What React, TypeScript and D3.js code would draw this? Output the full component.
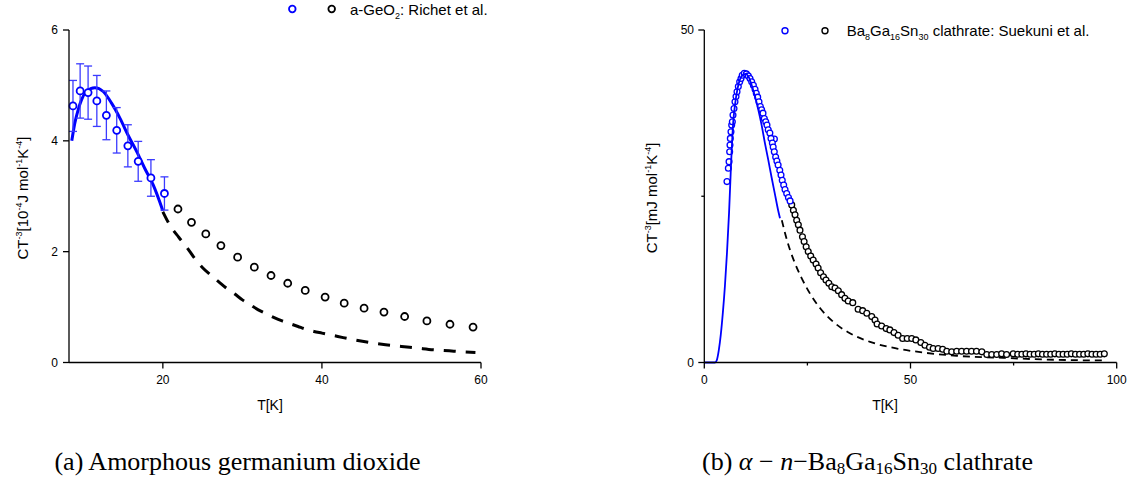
import React from "react";
import { scaleLinear, line, curveMonotoneX } from "d3";

// (a) a-GeO2, Richet et al.
const geoLowT = [8.7, 9.6, 10.6, 11.7, 12.9, 14.2, 15.6, 16.9, 18.5, 20.2];
const geoLowCt = [4.63, 4.9, 4.87, 4.72, 4.46, 4.19, 3.91, 3.63, 3.33, 3.05];
const geoLowErr = [0.46, 0.49, 0.48, 0.46, 0.44, 0.41, 0.38, 0.36, 0.33, 0.3];
const geoHighT = [21.9, 23.6, 25.4, 27.3, 29.4, 31.5, 33.6, 35.7, 37.9, 40.4, 42.8, 45.3, 47.8, 50.4, 53.2, 56.1, 59.0];
const geoHighCt = [2.77, 2.53, 2.32, 2.11, 1.9, 1.72, 1.57, 1.43, 1.3, 1.18, 1.07, 0.98, 0.91, 0.83, 0.75, 0.69, 0.64];
const geoFit: [number, number][] = [
  [8.55, 4.0], [8.93, 4.32], [9.35, 4.56], [9.77, 4.74], [10.4, 4.89], [11.45, 4.96], [12.5, 4.89],
  [13.55, 4.68], [14.6, 4.41], [15.6, 4.11], [16.7, 3.81], [17.7, 3.51], [18.8, 3.2], [20.0, 2.74],
];
const geoTail: [number, number][] = [
  [20.0, 2.72], [21.0, 2.45], [22.0, 2.26], [23.0, 2.08], [24.0, 1.88], [25.0, 1.71], [26.0, 1.58],
  [27.0, 1.46], [28.0, 1.34], [29.0, 1.24], [30.0, 1.13], [31.0, 1.04], [32.0, 0.95], [33.0, 0.88],
  [34.0, 0.81], [35.0, 0.75], [36.0, 0.7], [37.0, 0.65], [38.0, 0.6], [39.0, 0.56], [40.0, 0.53],
  [42.0, 0.47], [44.0, 0.41], [46.0, 0.36], [48.0, 0.32], [50.0, 0.29], [52.0, 0.26], [54.0, 0.23],
  [56.0, 0.21], [58.0, 0.19], [59.3, 0.18],
];
const geoYTicks = [0, 2, 4, 6];
const geoXTicks = [20, 40, 60];

// (b) Ba8Ga16Sn30 clathrate, Suekuni et al.
const bgsLowT = [
  5.5, 5.83, 6.0, 6.15, 6.23, 6.31, 6.47, 6.64, 6.8, 6.96, 7.2, 7.44, 7.69, 7.93, 8.25, 8.58, 8.9, 9.2, 9.7, 10.2,
  10.67, 11.08, 11.49, 11.9, 12.3, 12.6, 12.95, 13.26, 13.6, 13.9, 14.23, 14.55, 14.9, 15.2, 15.5, 15.9, 17.0,
  16.17, 16.5, 16.7, 16.97, 17.3, 17.6, 17.9, 18.3, 18.6, 18.9, 19.25, 19.57, 19.98, 20.4, 20.8,
];
const bgsLowCt = [
  27.2, 29.2, 30.2, 31.7, 32.7, 33.7, 34.7, 35.7, 36.2, 37.2, 38.2, 39.2, 40.0, 40.7, 41.5, 42.2, 42.7, 43.2, 43.5, 43.4,
  43.1, 42.7, 42.2, 41.7, 41.1, 40.5, 39.9, 39.2, 38.5, 38.0, 37.5, 36.7, 36.2, 35.7, 35.0, 34.5, 33.6,
  33.7, 33.0, 32.4, 31.7, 30.9, 30.3, 29.7, 28.9, 28.2, 27.4, 26.7, 26.0, 25.4, 24.8, 24.3,
];
const bgsHighT = [
  21.2, 21.6, 22.0, 22.4, 22.8, 23.2, 23.8, 24.2, 24.7, 25.2, 25.8, 26.4, 27.1, 27.6, 28.2, 28.9, 29.5, 30.2,
  30.9, 31.7, 32.5, 33.3, 34.1, 34.9, 36.0, 37.3, 38.4, 39.4, 40.6, 41.4, 41.9, 43.0, 44.1, 45.0, 46.0, 47.0,
  48.1, 49.2, 50.3, 51.3, 52.5, 53.5, 54.6, 55.5, 56.7, 57.8, 58.8, 60.0, 61.2, 62.4, 63.6, 64.8, 66.0, 67.3,
  68.5, 69.7, 70.9, 72.1, 73.3, 74.9, 76.0, 77.0, 78.0, 79.0, 80.0, 81.0, 82.0, 83.0, 84.0, 85.0, 86.0, 87.0,
  88.0, 89.0, 90.0, 91.0, 92.0, 93.0, 94.0, 95.0, 96.0, 97.0,
];
const bgsHighCt = [
  23.7, 22.9, 22.2, 21.4, 20.7, 19.9, 18.9, 18.2, 17.4, 16.7, 16.0, 15.4, 14.8, 14.2, 13.5, 12.9, 12.4, 11.9,
  11.4, 11.2, 10.8, 10.2, 9.65, 9.25, 9.0, 8.0, 7.8, 7.4, 6.9, 6.4, 5.8, 5.5, 5.1, 4.9, 4.5, 4.1,
  3.6, 3.6, 3.6, 3.4, 3.0, 2.6, 2.3, 2.1, 2.1, 2.0, 1.7, 1.6, 1.7, 1.7, 1.7, 1.7, 1.7, 1.6,
  1.2, 1.2, 1.2, 1.3, 1.2, 1.3, 1.25, 1.25, 1.3, 1.25, 1.25, 1.3, 1.25, 1.25, 1.25, 1.3, 1.25, 1.25,
  1.25, 1.3, 1.25, 1.25, 1.25, 1.3, 1.25, 1.25, 1.25, 1.3,
];
const bgsFit: [number, number][] = [
  [0, 0], [2.6, 0], [3.0, 0.3], [3.5, 1.8], [4.0, 4.2], [4.5, 7.5], [5.0, 11.5], [5.5, 16.5], [6.0, 22.5],
  [6.5, 30.0], [7.0, 36.0], [7.5, 39.0], [8.0, 41.0], [8.5, 42.3], [9.0, 43.0], [9.5, 43.3], [10.0, 43.4],
  [10.7, 43.0], [11.5, 41.7], [12.3, 40.0], [13.1, 38.0], [13.9, 35.7], [14.7, 33.0], [15.5, 30.5],
  [16.3, 27.9], [17.1, 25.4], [17.9, 22.9], [18.35, 21.7],
];
const bgsTail: [number, number][] = [
  [18.8, 21.4], [19.6, 19.4], [20.8, 16.9], [22.0, 14.9], [23.6, 12.7], [25.6, 10.4], [28.1, 8.15],
  [31.3, 6.1], [35.3, 4.4], [40.2, 3.1], [46.7, 2.1], [53.1, 1.5], [61.2, 1.0], [72.5, 0.7], [80, 0.5],
  [90, 0.35], [97.6, 0.3],
];
const bgsYTicks = [0, 50];
const bgsYMinor = [25];
const bgsXTicks = [0, 50, 100];
const bgsXMinor = [25, 75];

const BLUE = "#0000ff";
const SANS = "'Liberation Sans', Arial, sans-serif";
const SERIF = "'Liberation Serif', 'Times New Roman', serif";

export default function App() {
  const xL = scaleLinear().domain([8.2, 60]).range([69, 481]);
  const yL = scaleLinear().domain([0, 6]).range([362.5, 30]);
  const xR = scaleLinear().domain([0, 100]).range([704.3, 1116.7]);
  const yR = scaleLinear().domain([0, 50]).range([362.5, 30]);

  const lineL = line<[number, number]>().x(d => xL(d[0])).y(d => yL(d[1])).curve(curveMonotoneX);
  const lineR = line<[number, number]>().x(d => xR(d[0])).y(d => yR(d[1])).curve(curveMonotoneX);

  const baseY = 362.5;

  return (
    <svg width={1132} height={479} style={{ position: "absolute", left: 0, top: 0, background: "#fff" }}>
      {/* ---------- left panel ---------- */}
      <g fontFamily={SANS}>
        <path d={lineL(geoTail) || ""} fill="none" stroke="#000" strokeWidth={3} strokeDasharray="12 10" />
        <path d={lineL(geoFit) || ""} fill="none" stroke={BLUE} strokeWidth={3} />

        {geoLowT.map((t, i) => {
          const x = xL(t);
          const y0 = yL(geoLowCt[i] - geoLowErr[i]);
          const y1 = yL(geoLowCt[i] + geoLowErr[i]);
          return (
            <g key={i} stroke="#3b3bff" strokeWidth={1.3}>
              <line x1={x} x2={x} y1={y0} y2={y1} />
              <line x1={x - 4} x2={x + 4} y1={y0} y2={y0} />
              <line x1={x - 4} x2={x + 4} y1={y1} y2={y1} />
            </g>
          );
        })}
        {geoLowT.map((t, i) => (
          <circle key={i} cx={xL(t)} cy={yL(geoLowCt[i])} r={3.5} fill="#fff" stroke={BLUE} strokeWidth={1.8} />
        ))}
        {geoHighT.map((t, i) => (
          <circle key={i} cx={xL(t)} cy={yL(geoHighCt[i])} r={3.5} fill="#fff" stroke="#000" strokeWidth={1.8} />
        ))}

        {/* axes */}
        <line x1={69} x2={69} y1={yL(6)} y2={baseY} stroke="#000" strokeWidth={1.3} />
        <line x1={69} x2={xL(60)} y1={baseY} y2={baseY} stroke="#000" strokeWidth={1.3} />
        {geoYTicks.map(v => (
          <g key={v}>
            <line x1={63} x2={69} y1={yL(v)} y2={yL(v)} stroke="#000" strokeWidth={1.3} />
            <text x={58} y={yL(v)} dy="0.35em" textAnchor="end" fontSize={12}>{v}</text>
          </g>
        ))}
        {geoXTicks.map(v => (
          <g key={v}>
            <line x1={xL(v)} x2={xL(v)} y1={baseY} y2={baseY + 6} stroke="#000" strokeWidth={1.3} />
            <text x={xL(v)} y={384} textAnchor="middle" fontSize={12}>{v}</text>
          </g>
        ))}
        <text x={270} y={410} textAnchor="middle" fontSize={14}>T[K]</text>
        <text transform="translate(28,198) rotate(-90)" textAnchor="middle" fontSize={15}>
          CT<tspan fontSize={9} dy={-6}>-3</tspan>
          <tspan dy={6}>[10</tspan>
          <tspan fontSize={9} dy={-6}>-4</tspan>
          <tspan dy={6}>J mol</tspan>
          <tspan fontSize={9} dy={-6}>-1</tspan>
          <tspan dy={6}>K</tspan>
          <tspan fontSize={9} dy={-6}>-4</tspan>
          <tspan dy={6}>]</tspan>
        </text>

        {/* legend */}
        <circle cx={292.3} cy={9} r={3.3} fill="#fff" stroke={BLUE} strokeWidth={1.8} />
        <circle cx={331.7} cy={9} r={3.3} fill="#fff" stroke="#000" strokeWidth={1.8} />
        <text x={350} y={15} fontSize={15}>
          a-GeO<tspan fontSize={9} dy={4}>2</tspan>
          <tspan dy={-4}>: Richet et al.</tspan>
        </text>
      </g>

      {/* ---------- right panel ---------- */}
      <g fontFamily={SANS}>
        <path d={lineR(bgsTail) || ""} fill="none" stroke="#000" strokeWidth={1.8} strokeDasharray="7 5" />
        {bgsHighT.map((t, i) => (
          <circle key={i} cx={xR(t)} cy={yR(bgsHighCt[i])} r={2.9} fill="#fff" stroke="#000" strokeWidth={1.3} />
        ))}
        {bgsLowT.map((t, i) => (
          <circle key={i} cx={xR(t)} cy={yR(bgsLowCt[i])} r={2.9} fill="#fff" stroke={BLUE} strokeWidth={1.3} />
        ))}
        <path d={lineR(bgsFit) || ""} fill="none" stroke={BLUE} strokeWidth={1.8} />

        <line x1={xR(0)} x2={xR(0)} y1={yR(50)} y2={baseY} stroke="#000" strokeWidth={1.3} />
        <line x1={xR(0)} x2={xR(100)} y1={baseY} y2={baseY} stroke="#000" strokeWidth={1.3} />
        {bgsYTicks.map(v => (
          <g key={v}>
            <line x1={xR(0) - 6} x2={xR(0)} y1={yR(v)} y2={yR(v)} stroke="#000" strokeWidth={1.3} />
            <text x={694} y={yR(v)} dy="0.35em" textAnchor="end" fontSize={12}>{v}</text>
          </g>
        ))}
        {bgsYMinor.map(v => (
          <line key={v} x1={xR(0) - 3} x2={xR(0)} y1={yR(v)} y2={yR(v)} stroke="#000" strokeWidth={1.3} />
        ))}
        {bgsXTicks.map(v => (
          <g key={v}>
            <line x1={xR(v)} x2={xR(v)} y1={baseY} y2={baseY + 6} stroke="#000" strokeWidth={1.3} />
            <text x={xR(v)} y={384} textAnchor="middle" fontSize={12}>{v}</text>
          </g>
        ))}
        {bgsXMinor.map(v => (
          <line key={v} x1={xR(v)} x2={xR(v)} y1={baseY} y2={baseY + 3} stroke="#000" strokeWidth={1.3} />
        ))}
        <text x={885} y={410} textAnchor="middle" fontSize={14}>T[K]</text>
        <text transform="translate(657,198) rotate(-90)" textAnchor="middle" fontSize={15}>
          CT<tspan fontSize={9} dy={-6}>-3</tspan>
          <tspan dy={6}>[mJ mol</tspan>
          <tspan fontSize={9} dy={-6}>-1</tspan>
          <tspan dy={6}>K</tspan>
          <tspan fontSize={9} dy={-6}>-4</tspan>
          <tspan dy={6}>]</tspan>
        </text>

        <circle cx={785} cy={30.7} r={3} fill="#fff" stroke={BLUE} strokeWidth={1.4} />
        <circle cx={825} cy={30.7} r={3} fill="#fff" stroke="#000" strokeWidth={1.4} />
        <text x={846.7} y={36} fontSize={15}>
          Ba<tspan fontSize={9} dy={4}>8</tspan>
          <tspan dy={-4}>Ga</tspan>
          <tspan fontSize={9} dy={4}>16</tspan>
          <tspan dy={-4}>Sn</tspan>
          <tspan fontSize={9} dy={4}>30</tspan>
          <tspan dy={-4}> clathrate: Suekuni et al.</tspan>
        </text>
      </g>

      {/* captions */}
      <g fontFamily={SERIF} fontSize={26}>
        <text x={237.5} y={470} textAnchor="middle">(a) Amorphous germanium dioxide</text>
        <text x={867.5} y={470} textAnchor="middle">
          (b) <tspan fontStyle="italic">α</tspan> − <tspan fontStyle="italic">n</tspan>−Ba
          <tspan fontSize={17} dy={4}>8</tspan>
          <tspan dy={-4}>Ga</tspan>
          <tspan fontSize={17} dy={4}>16</tspan>
          <tspan dy={-4}>Sn</tspan>
          <tspan fontSize={17} dy={4}>30</tspan>
          <tspan dy={-4}> clathrate</tspan>
        </text>
      </g>
    </svg>
  );
}
